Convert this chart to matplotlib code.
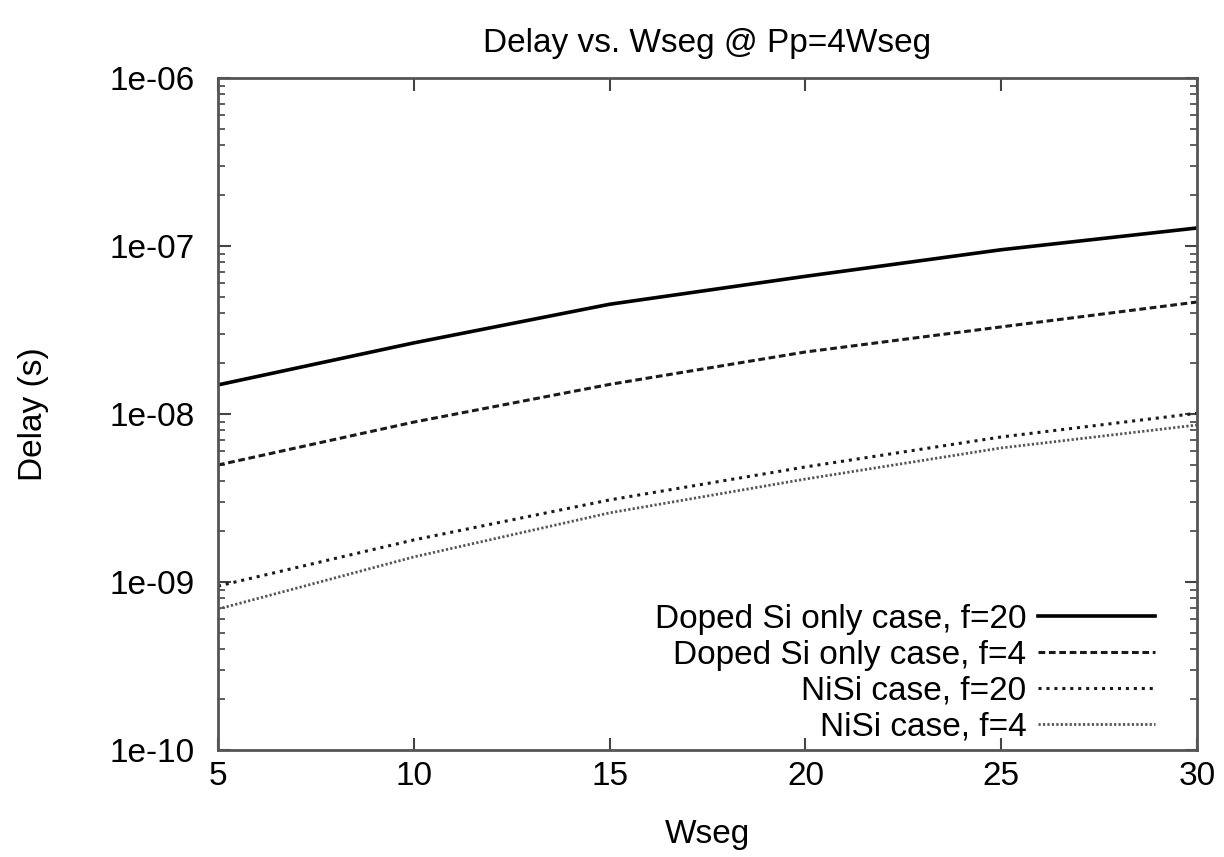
import matplotlib
matplotlib.use("Agg")
import matplotlib.pyplot as plt
from matplotlib.ticker import LogLocator

plt.rcParams['font.family'] = ['Liberation Sans', 'DejaVu Sans']

wseg = [5, 10, 15, 20, 25, 30]
doped_f20 = [1.49e-8, 2.65e-8, 4.5e-8, 6.6e-8, 9.5e-8, 1.28e-7]
doped_f4 = [4.97e-9, 8.95e-9, 1.5e-8, 2.34e-8, 3.3e-8, 4.64e-8]
nisi_f20 = [9.46e-10, 1.78e-9, 3.08e-9, 4.84e-9, 7.3e-9, 1.01e-8]
nisi_f4 = [6.9e-10, 1.41e-9, 2.58e-9, 4.1e-9, 6.28e-9, 8.6e-9]
labels = ["Doped Si only case, f=20", "Doped Si only case, f=4",
          "NiSi case, f=20", "NiSi case, f=4"]
yticks = [1e-10, 1e-9, 1e-8, 1e-7, 1e-6]
yticklabels = ["1e-10", "1e-09", "1e-08", "1e-07", "1e-06"]
xticks = [5, 10, 15, 20, 25, 30]

FS = 24

fig = plt.figure(figsize=(12.24, 8.57), dpi=100)
ax = fig.add_axes([218/1224, 1-750/857, (1197-218)/1224, (750-78)/857])

ax.plot(wseg, doped_f20, color='black', lw=2.6, ls='-', label=labels[0])
ax.plot(wseg, doped_f4, color='#1a1a1a', lw=2.2, ls=(0, (2.2, 1.2)), label=labels[1])
ax.plot(wseg, nisi_f20, color='#1a1a1a', lw=2.2, ls=(0, (1, 1.6)), label=labels[2])
ax.plot(wseg, nisi_f4, color='#555555', lw=2.0, ls=(0, (0.8, 0.8)), label=labels[3])

ax.set_yscale('log')
ax.set_xlim(5, 30)
ax.set_ylim(1e-10, 1e-6)
ax.set_xticks(xticks)
ax.set_xticklabels([str(x) for x in xticks])
ax.set_yticks(yticks)
ax.set_yticklabels(yticklabels)
ax.yaxis.set_minor_locator(LogLocator(base=10, subs=range(2, 10)))
ax.tick_params(axis='both', which='both', direction='in', top=True, right=True,
               labelsize=FS, color='#444444')
ax.tick_params(which='major', length=9, width=1.5)
ax.tick_params(which='minor', length=5, width=1.2)
ax.tick_params(axis='x', pad=8)
ax.tick_params(axis='y', pad=17)
for s in ax.spines.values():
    s.set_linewidth(2)
    s.set_color('#555555')

ax.set_title("Delay vs. Wseg @ Pp=4Wseg", fontsize=FS, pad=19)
ax.set_xlabel("Wseg", fontsize=FS, labelpad=19)
ax.set_ylabel("Delay (s)", fontsize=FS, labelpad=43)

leg = ax.legend(loc='lower right', frameon=False, markerfirst=False, fontsize=FS,
                handlelength=3.5, handletextpad=0.35, labelspacing=0.15,
                borderaxespad=0.0, borderpad=0.0, bbox_to_anchor=(0.957, 0.011))
for t in leg.get_texts():
    t.set_ha('right')
leg._legend_box.align = 'right'

fig.savefig("out.png", dpi=100)
